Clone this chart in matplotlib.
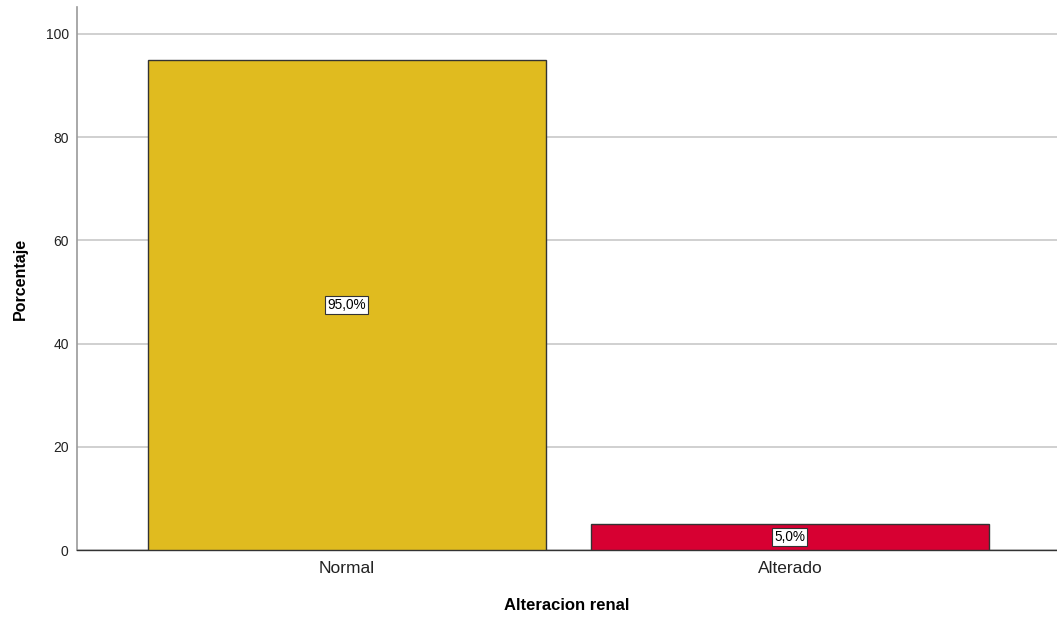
import matplotlib.pyplot as plt

categorias = ['Normal', 'Alterado']
porcentajes = [95.0, 5.0]
colores = ['#e0bb1f', '#d70032']

plt.rcParams['font.family'] = ['Liberation Sans', 'DejaVu Sans']

fig = plt.figure(figsize=(10.57, 6.27), dpi=100)
ax = fig.add_axes([77 / 1057, 77 / 627, 980 / 1057, 543 / 627])

x = range(len(categorias))
bars = ax.bar(x, porcentajes, width=0.898, color=colores,
              edgecolor='#333333', linewidth=1.0, zorder=3)

# etiquetas de porcentaje en el centro de cada barra
for b, v in zip(bars, porcentajes):
    ax.text(b.get_x() + b.get_width() / 2, v / 2,
            ('%.1f%%' % v).replace('.', ','),
            ha='center', va='center', fontsize=9.8, zorder=4,
            bbox=dict(boxstyle='square,pad=0.15', fc='white',
                      ec='#333333', lw=0.8))

ax.set_xlim(-0.609, 1.603)
ax.set_ylim(0, 105.2)
ax.set_yticks([0, 20, 40, 60, 80, 100])
ax.set_xticks(list(x))
ax.set_xticklabels(categorias, fontsize=12.5, color='#222222')
ax.tick_params(axis='y', length=0, labelsize=10, pad=6, colors='#222222')
ax.tick_params(axis='x', length=0, pad=8)

ax.yaxis.grid(True, color='#c8c8c8', linewidth=1.2, zorder=0)
ax.set_axisbelow(True)
for s in ['top', 'right']:
    ax.spines[s].set_visible(False)
ax.spines['left'].set_color('#9a9a9a')
ax.spines['left'].set_linewidth(1.2)
ax.spines['bottom'].set_color('#333333')
ax.spines['bottom'].set_linewidth(1.0)

ax.set_xlabel('Alteracion renal', fontsize=12, fontweight='bold', labelpad=16)
ax.set_ylabel('Porcentaje', fontsize=11.5, fontweight='bold', labelpad=13)

fig.savefig('out.png', dpi=100)
